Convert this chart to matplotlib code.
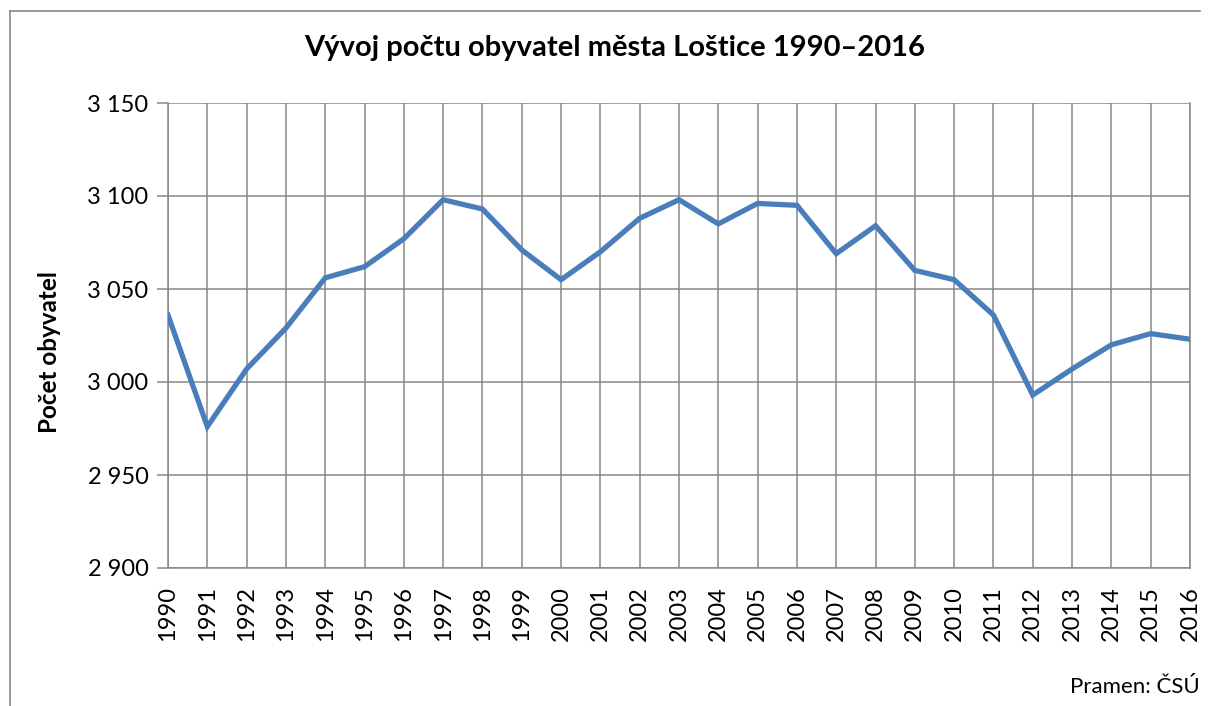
import matplotlib.pyplot as plt
from matplotlib.lines import Line2D
from matplotlib.ticker import FuncFormatter

plt.rcParams['font.family'] = ['Lato', 'DejaVu Sans']

# Počet obyvatel Loštice
years = list(range(1990, 2017))
population = [
    3036, 2976, 3007, 3029, 3056, 3062, 3077, 3098, 3093, 3071,
    3055, 3070, 3088, 3098, 3085, 3096, 3095, 3069, 3084, 3060,
    3055, 3036, 2993, 3007, 3020, 3026, 3023,
]
y_ticks = [2900, 2950, 3000, 3050, 3100, 3150]

fig = plt.figure(figsize=(12.09, 7.06), dpi=100)
ax = fig.add_axes([168 / 1209, 1 - 568 / 706, (1190 - 168) / 1209, (568 - 103) / 706])

grid_color = '#878787'
ax.plot(years, population, color='#4A7EBB', linewidth=3.8, solid_joinstyle='miter', zorder=3)

ax.set_xlim(1990, 2016)
ax.set_ylim(2900, 3150)
ax.set_xticks(years)
ax.set_yticks(y_ticks)
ax.yaxis.set_major_formatter(FuncFormatter(lambda v, p: f'{int(v):,}'.replace(',', ' ')))
ax.set_xticklabels([str(y) for y in years], rotation=90)

ax.grid(True, color=grid_color, linewidth=1.1)
ax.set_axisbelow(True)
ax.spines['top'].set_visible(False)
for side in ['left', 'bottom', 'right']:
    ax.spines[side].set_color(grid_color)
    ax.spines[side].set_linewidth(1.1)

ax.tick_params(axis='y', length=8, width=1.1, color=grid_color, labelsize=17, pad=6)
ax.tick_params(axis='x', length=0, labelsize=17, pad=13)

fig.text(50 / 1209, 1 - 352 / 706, 'Počet obyvatel', fontsize=17.5, fontweight='bold',
         rotation=90, ha='center', va='center')
fig.text(0.508, 1 - 48 / 706, 'Vývoj počtu obyvatel města Loštice 1990–2016',
         fontsize=21, fontweight='bold', ha='center', va='center')
fig.text(1200 / 1209, 1 - 687 / 706, 'Pramen: ČSÚ', fontsize=16, ha='right', va='center')

# outer frame of the chart area (left and top edges)
fig.add_artist(Line2D([10 / 1209, 10 / 1209], [0, 1 - 11 / 706], color=grid_color, linewidth=1.2))
fig.add_artist(Line2D([10 / 1209, 1200 / 1209], [1 - 11 / 706, 1 - 11 / 706], color=grid_color, linewidth=1.2))

fig.savefig('out.png', dpi=100)
